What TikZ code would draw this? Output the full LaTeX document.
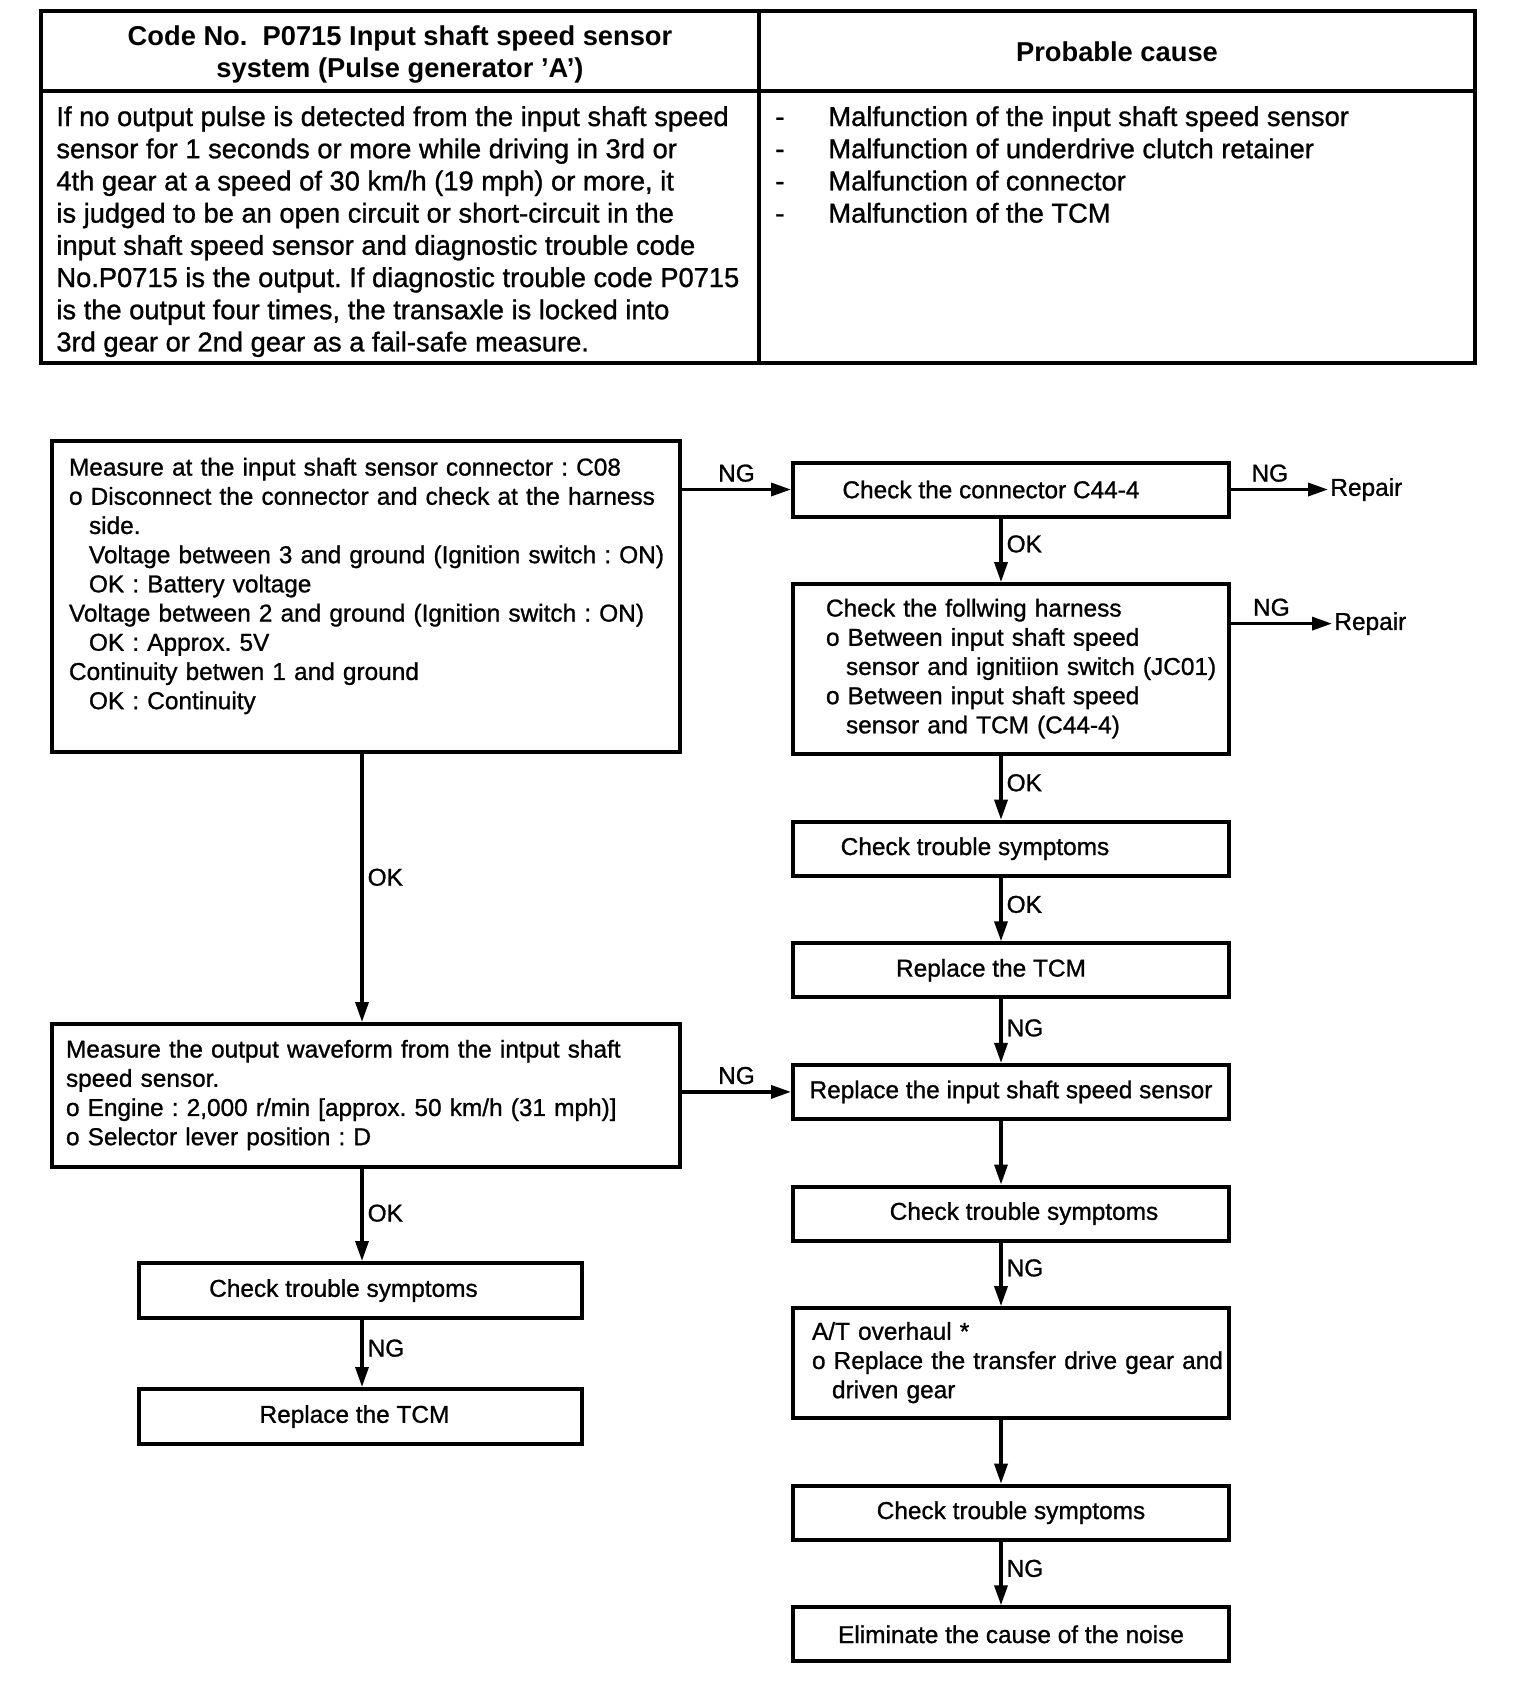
\documentclass[tikz,border=0pt]{standalone}
\usepackage{fontspec}
\setmainfont{Liberation Sans}[UprightFeatures={FakeBold=1.0}]
\usetikzlibrary{positioning,arrows.meta,calc}

\newcommand{\flowfont}{\fontsize{12.2}{14.6}\selectfont}
\newcommand{\tablefont}{\fontsize{13.65}{16.1}\selectfont}
\newcommand{\ind}{\hspace*{10pt}}
\frenchspacing

\tikzset{
  box/.style={draw, line width=2pt, inner sep=0pt, font=\flowfont,
    minimum width=218pt, minimum height=27pt},
  lbl/.style={font=\flowfont, inner sep=2pt},
  arr/.style={line width=1.7pt, -{Triangle[length=10pt,width=6.5pt]}},
}

\begin{document}
\begin{tikzpicture}[x=0.5pt, y=-0.5pt, node distance=31.8pt]
   \useasboundingbox (0,0) rectangle (1536,1694);

   % code table
   \draw[line width=1.75pt] (41,11) rectangle (1475,363);
   \draw[line width=1.75pt] (41,91) -- (1475,91);
   \draw[line width=1.75pt] (759,11) -- (759,363);

   \node[font=\tablefont\bfseries, align=center] (hd0) at (400,54.5)
      {Code No.\ \ P0715 Input shaft speed sensor\\system (Pulse generator 'A')};
   \node[font=\tablefont\bfseries] (hd1) at (1117,52) {Probable cause};

   \node[font=\tablefont, anchor=base west, inner sep=0pt] (cond) at (56,126)
      {\begin{tabular}[t]{@{}l@{}}
       If no output pulse is detected from the input shaft speed\\
       sensor for 1 seconds or more while driving in 3rd or\\
       4th gear at a speed of 30 km/h (19 mph) or more, it\\
       is judged to be an open circuit or short-circuit in the\\
       input shaft speed sensor and diagnostic trouble code\\
       No.P0715 is the output.\ If diagnostic trouble code P0715\\
       is the output four times, the transaxle is locked into\\
       3rd gear or 2nd gear as a fail-safe measure.
       \end{tabular}};
   \node[font=\tablefont, anchor=base west, inner sep=0pt] (cause) at (775,126)
      {\begin{tabular}[t]{@{}p{26.5pt}@{}l@{}}
       - & Malfunction of the input shaft speed sensor\\
       - & Malfunction of underdrive clutch retainer\\
       - & Malfunction of connector\\
       - & Malfunction of the TCM
       \end{tabular}};

   % arrow axes of the two columns
   \coordinate (lx) at (362,0);
   \coordinate (rx) at (1001,0);

   % left column
   \node[box, minimum width=314pt, minimum height=155.5pt, inner xsep=8.5pt,
         text width=297pt] (m0) at (366,596.5)
      {\begin{tabular}{@{}l@{}}
       Measure at the input shaft sensor connector : C08\\
       o Disconnect the connector and check at the harness\\
       \ind side.\\
       \ind Voltage between 3 and ground (Ignition switch : ON)\\
       \ind OK : Battery voltage\\
       Voltage between 2 and ground (Ignition switch : ON)\\
       \ind OK : Approx. 5V\\
       Continuity betwen 1 and ground\\
       \ind OK : Continuity\\[10pt]
       \end{tabular}};
   \node[box, below=134pt of m0, minimum width=314pt, minimum height=71.5pt,
         inner xsep=7pt, text width=300pt] (m1)
      {\begin{tabular}{@{}l@{}}
       Measure the output waveform from the intput shaft\\
       speed sensor.\\
       o Engine : 2,000 r/min [approx. 50 km/h (31 mph)]\\
       o Selector lever position : D
       \end{tabular}};
   \node[box, below=46pt of m1, xshift=-2.75pt, minimum width=221.5pt,
         minimum height=27.5pt] (m2) {Check trouble symptoms\hspace*{17pt}};
   \node[box, below=33.5pt of m2, minimum width=221.5pt,
         minimum height=27.5pt] (m3) {Replace the TCM\hspace*{6pt}};

   % right column
   \node[box] (c0) at (1011,489.5) {Check the connector C44-4\hspace*{20pt}};
   \node[box, below=of c0, minimum height=85pt, inner xsep=16.5pt,
         text width=185pt] (c1)
      {\begin{tabular}{@{}l@{}}
       Check the follwing harness\\
       o Between input shaft speed\\
       \ind sensor and ignitiion switch (JC01)\\
       o Between input shaft speed\\
       \ind sensor and TCM (C44-4)
       \end{tabular}};
   \node[box, below=of c1] (c2) {Check trouble symptoms\hspace*{36pt}};
   \node[box, below=of c2] (c3) {Replace the TCM\hspace*{20pt}};
   \node[box, below=of c3] (c4) {Replace the input shaft speed sensor};
   \node[box, below=of c4] (c5) {\hspace*{13pt}Check trouble symptoms};
   \node[box, below=of c5, minimum height=55pt, inner xsep=9.5pt,
         text width=199pt] (c6)
      {\begin{tabular}{@{}l@{}}
       A/T overhaul *\\
       o Replace the transfer drive gear and\\
       \ind driven gear
       \end{tabular}};
   \node[box, below=of c6] (c7) {Check trouble symptoms};
   \node[box, below=of c7] (c8) {Eliminate the cause of the noise};

   % repair exits
   \node[lbl, anchor=west, inner sep=1pt] (rep0) at ([xshift=48.5pt]c0.east) {Repair};
   \node[lbl, anchor=west, inner sep=1pt] (rep1) at ([shift={(50.5pt,22.75pt)}]c1.east) {Repair};

   % connectors
   \draw[arr] (c0.west -| m0.east) -- node[lbl, above=1pt] {NG} (c0.west);
   \draw[arr] (m1.east |- c4.west) -- node[lbl, above=1pt] {NG} (c4.west);
   \draw[arr] (c0.east) -- node[lbl, above=1pt, pos=0.4] {NG} (rep0.west);
   \draw[arr] (c1.east |- rep1.west) -- node[lbl, above=1pt, pos=0.4] {NG} (rep1.west);

   \draw[arr] (m0.south -| lx) -- node[lbl, right, pos=0.46] {OK} (m1.north -| lx);
   \draw[arr] (m1.south -| lx) -- node[lbl, right, pos=0.48] {OK} (m2.north -| lx);
   \draw[arr] (m2.south -| lx) -- node[lbl, right, pos=0.42] {NG} (m3.north -| lx);

   \draw[arr] (c0.south -| rx) -- node[lbl, right, pos=0.4] {OK} (c1.north -| rx);
   \draw[arr] (c1.south -| rx) -- node[lbl, right, pos=0.42] {OK} (c2.north -| rx);
   \draw[arr] (c2.south -| rx) -- node[lbl, right, pos=0.42] {OK} (c3.north -| rx);
   \draw[arr] (c3.south -| rx) -- node[lbl, right, pos=0.45] {NG} (c4.north -| rx);
   \draw[arr] (c4.south -| rx) -- (c5.north -| rx);
   \draw[arr] (c5.south -| rx) -- node[lbl, right, pos=0.4] {NG} (c6.north -| rx);
   \draw[arr] (c6.south -| rx) -- (c7.north -| rx);
   \draw[arr] (c7.south -| rx) -- node[lbl, right, pos=0.42] {NG} (c8.north -| rx);
\end{tikzpicture}
\end{document}
